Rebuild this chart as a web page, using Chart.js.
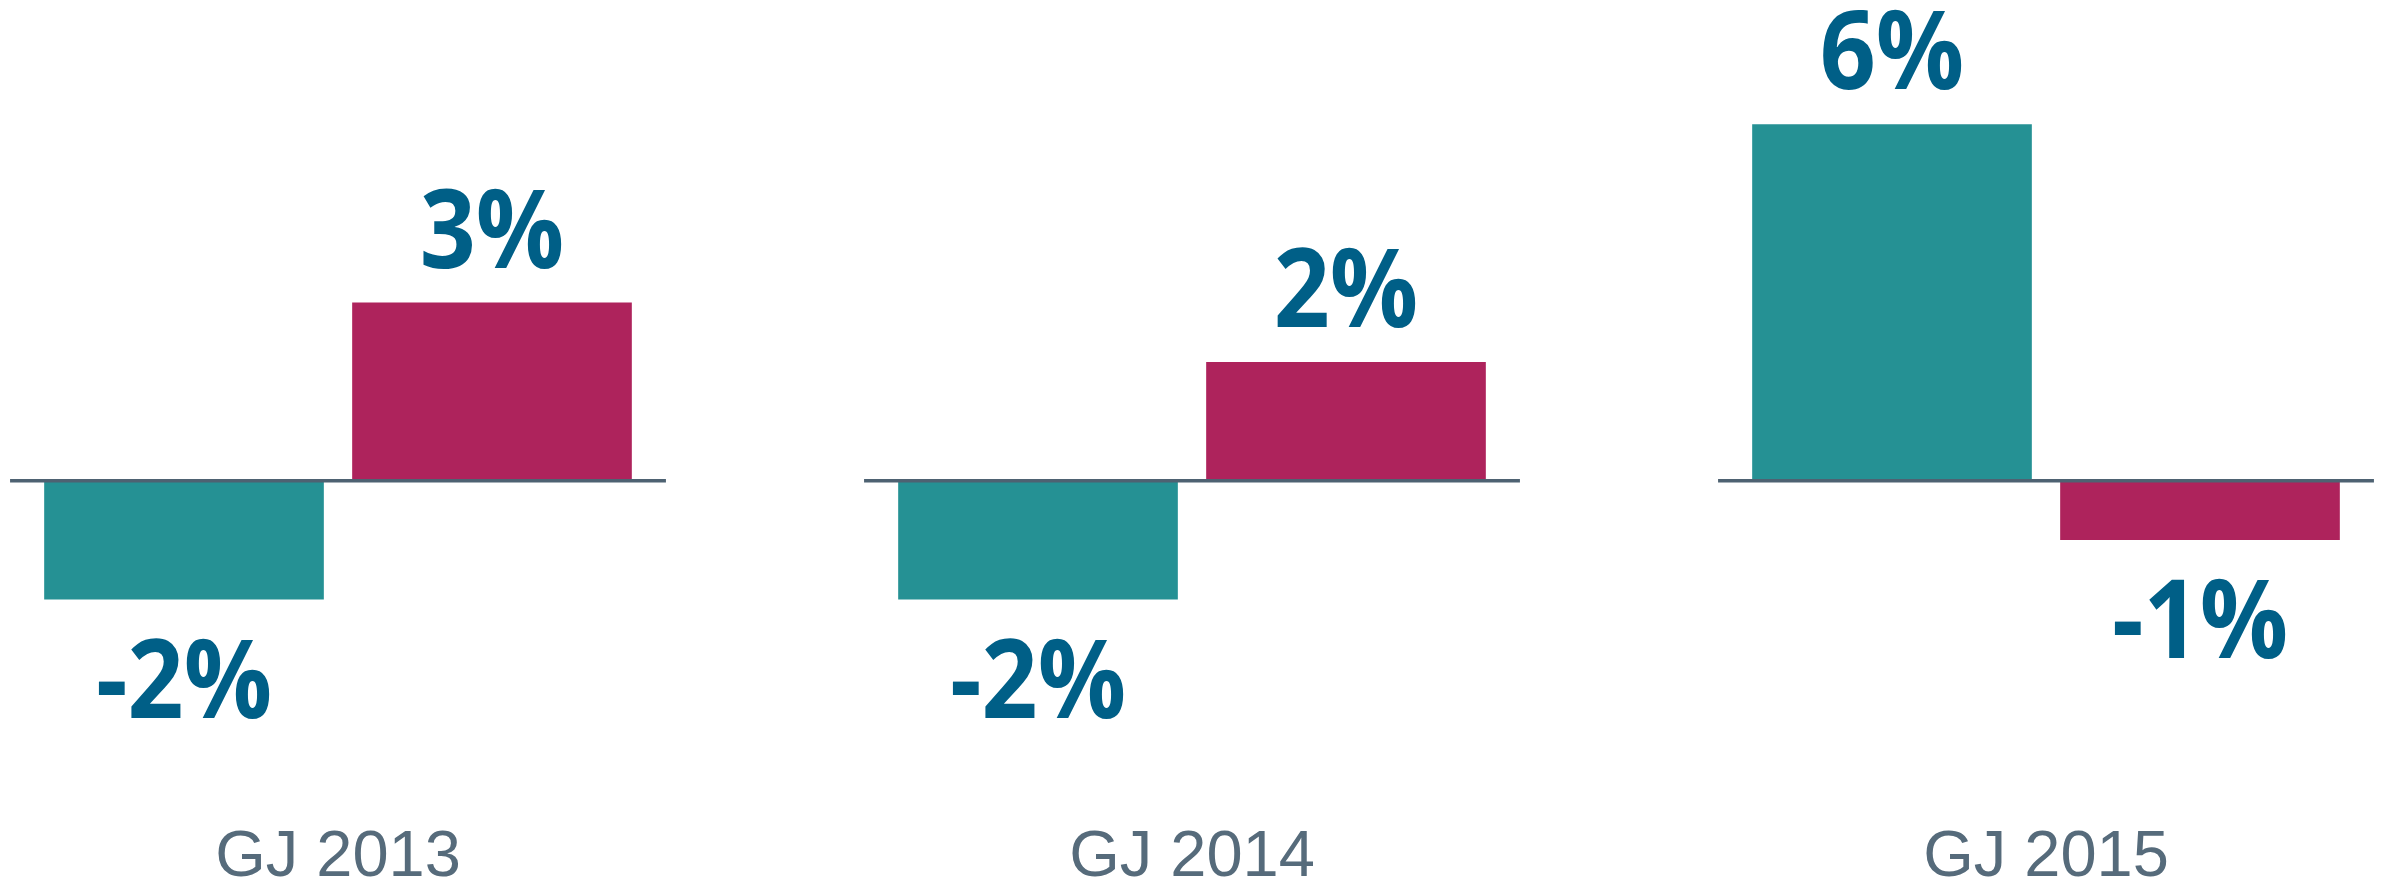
<!DOCTYPE html>
<html><head><meta charset="utf-8">
<script src="https://cdn.jsdelivr.net/npm/chart.js@4/dist/chart.umd.min.js"></script>
<style>
html,body{margin:0;padding:0;background:#fff;overflow:hidden;width:2386px;height:886px;}
#wrap{position:absolute;left:-89px;top:0;width:2562px;height:897px;}
</style></head><body>
<div id="wrap"><canvas id="c" width="2562" height="897"></canvas></div>
<script>
const categories = ['GJ 2013', 'GJ 2014', 'GJ 2015'];
const seriesTeal = [-2, -2, 6];
const seriesMagenta = [3, 2, -1];

const baselinePlugin = {
  id: 'baselinesAndLabels',
  afterDatasetsDraw(chart) {
    const ctx = chart.ctx, xs = chart.scales.x, ys = chart.scales.y;
    const y0 = ys.getPixelForValue(0);
    const half = (xs.width / categories.length) * 0.384;
    ctx.save();
    ctx.strokeStyle = '#4e6272';
    ctx.lineWidth = 3.4;
    categories.forEach((c, i) => {
      const cx = xs.getPixelForValue(i);
      ctx.beginPath();
      ctx.moveTo(cx - half, y0);
      ctx.lineTo(cx + half, y0);
      ctx.stroke();
    });
    ctx.fillStyle = '#005f87';
    ctx.font = 'bold 109px "Open Sans"';
    ctx.textAlign = 'center';
    ctx.textBaseline = 'alphabetic';
    chart.data.datasets.forEach((ds, di) => {
      const meta = chart.getDatasetMeta(di);
      meta.data.forEach((bar, i) => {
        const v = ds.data[i];
        const txt = v + '%';
        const ty = v >= 0 ? bar.y - 35 : bar.y + 118;
        ctx.save();
        ctx.translate(bar.x, ty);
        ctx.scale(0.9, 1);
        ctx.fillText(txt, 0, 0);
        ctx.restore();
      });
    });
    ctx.restore();
  }
};

new Chart(document.getElementById('c'), {
  type: 'bar',
  data: {
    labels: categories,
    datasets: [
      { data: seriesTeal, backgroundColor: '#259194', borderWidth: 0,
        categoryPercentage: 0.7213, barPercentage: 0.908 },
      { data: seriesMagenta, backgroundColor: '#ae235c', borderWidth: 0,
        categoryPercentage: 0.7213, barPercentage: 0.908 }
    ]
  },
  options: {
    responsive: false,
    animation: false,
    layout: { padding: 0 },
    plugins: { legend: { display: false }, tooltip: { enabled: false } },
    scales: {
      x: {
        grid: { display: false, drawTicks: false },
        border: { display: false },
        ticks: { color: '#566b7b', padding: 0,
          font: { family: '"Liberation Sans", Arial, sans-serif', size: 65 } }
      },
      y: { display: false, min: -5.695, max: 8.093 }
    }
  },
  plugins: [baselinePlugin]
});
</script>
</body></html>
